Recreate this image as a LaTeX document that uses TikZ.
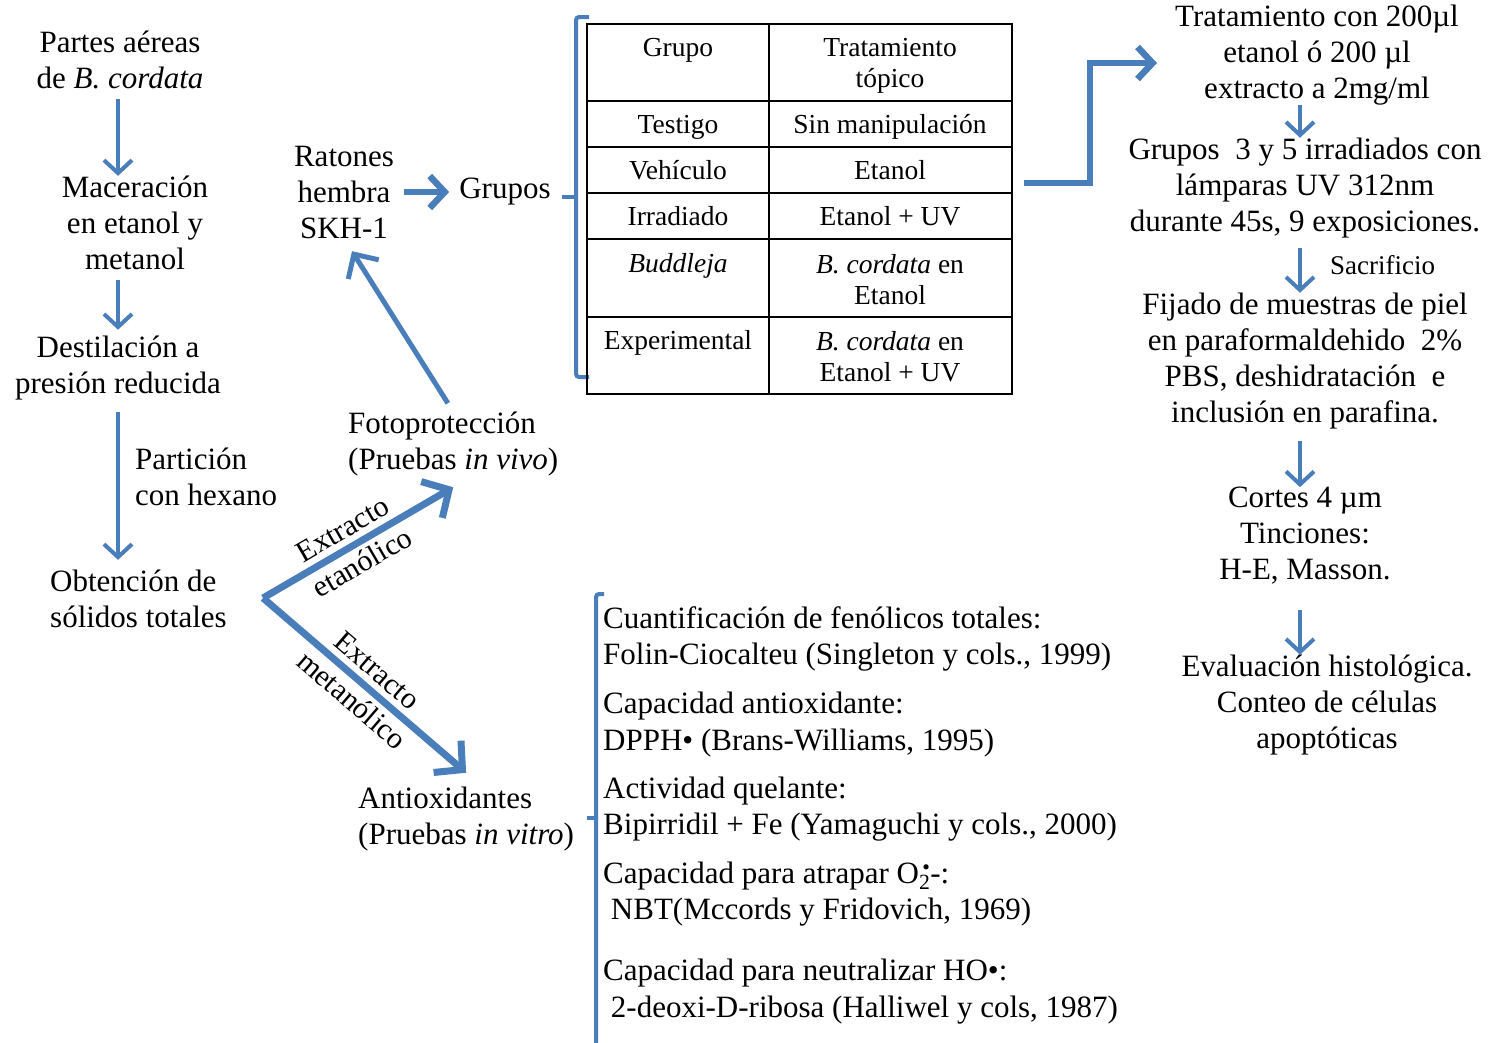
\documentclass[tikz,border=0pt]{standalone}
\usepackage{fontspec}
\setmainfont{Liberation Serif}
\usetikzlibrary{arrows.meta}
\usetikzlibrary{calc}
\usepackage{xcolor}
\definecolor{azul}{RGB}{74,126,187}

\begin{document}
\begin{tikzpicture}[x=1pt,y=-1pt,
        txt/.style={align=center, inner sep=0pt, font=\fontsize{31}{36}\selectfont},
        tab/.style={align=center, inner sep=0pt, anchor=north, font=\fontsize{27.5}{31}\selectfont, execute at begin node=\strut},
        item/.style={anchor=west, inner sep=0pt, font=\fontsize{31}{36}\selectfont, execute at begin node=\strut},
        lbl/.style={align=center, inner sep=0pt, font=\fontsize{30}{39}\selectfont},
        flecha/.style={draw=azul, line width=4pt, -{Straight Barb[length=13pt,width=28pt]}},
        flechagr/.style={draw=azul, line width=6.5pt, -{Straight Barb[length=15pt,width=32pt]}},
        llave/.style={draw=azul, line width=4pt, rounded corners=3pt}]

        \useasboundingbox (0,0) rectangle (1492,1042);

        % Left column
        \node[txt] (partes) at (120,60) {Partes aéreas\\de \textit{B. cordata}};
        \node[txt] (macer) at (135,223) {Maceración\\en etanol y\\metanol};
        \node[txt] (destil) at (118,368) {Destilación a\\presión reducida};
        \node[txt, align=left, anchor=west] (obten) at (50,599) {Obtención de\\sólidos totales};
        \node[txt, align=left, anchor=west] (partic) at (135,477) {Partición\\con hexano};

        \draw[flecha, shorten <=10pt] (partes.south -| destil) -- (destil |- macer.north);
        \draw[flecha, shorten <=10pt, shorten >=6pt] (macer.south -| destil) -- (destil.north);
        \draw[flecha, shorten <=12pt, shorten >=10pt] (destil.south) -- (destil.south |- obten.north);

        % Mice and groups
        \node[txt] (ratones) at (344,192) {Ratones\\hembra\\SKH-1};
        \node[txt] (grupos) at (505,192) {Grupos};
        \draw[flechagr, shorten <=10pt, shorten >=10pt] (ratones.east |- grupos) -- (grupos.west);

        \draw[llave] (589,17) -- (576,17) -- (576,377) -- (589,377);
        \draw[llave] (562,197) -- (576,197);

        % Table
        \draw[line width=2.5pt] (587,24) rectangle (1012,394);
        \draw[line width=2.5pt] (769,24) -- (769,394);
        \foreach \y in {101,147,193,239,317}
        {
          \draw[line width=2.5pt] (587,\y) -- (1012,\y);
        }
        \coordinate (tabla) at (1012,183);

        \node[tab] (g0) at (678,35) {Grupo};
        \node[tab] (t0) at (890,38) {Tratamiento\\tópico};
        \foreach \y/\dy/\g/\t [count=\i] in {112/0/Testigo/Sin manipulación,
            158/0/Vehículo/Etanol, 204/0/Irradiado/Etanol + UV,
            251/3/\textit{Buddleja}/{\textit{B. cordata} en\\Etanol},
            328/3/Experimental/{\textit{B. cordata} en\\Etanol + UV}}
        {
          \node[tab] (g\i) at (678,\y) {\g};
          \node[tab] (t\i) at (890,\y+\dy) {\t};
        }

        % Right column
        \coordinate (eje) at (1300,0);
        \node[txt] (trat) at (1317,55) {Tratamiento con 200µl\\etanol ó 200 µl\\extracto a 2mg/ml};
        \node[txt] (irr) at (1305,188) {Grupos \ 3 y 5 irradiados con\\lámparas UV 312nm\\durante 45s, 9 exposiciones.};
        \node[txt] (fij) at (1305,361) {Fijado de muestras de piel\\en paraformaldehido \ 2\%\\PBS, deshidratación \ e\\inclusión en parafina.};
        \node[txt] (cortes) at (1305,536) {Cortes 4 µm\\Tinciones:\\H-E, Masson.};
        \node[txt] (eval) at (1327,705) {Evaluación histológica.\\Conteo de células\\apoptóticas};
        \node[anchor=west, inner sep=0pt, font=\fontsize{27}{30}\selectfont] (sacr) at (1330,265) {Sacrificio};

        \draw[flechagr] ($(tabla)+(12,0)$) -- ++(66,0) |- ([xshift=-18pt,yshift=-8pt]trat.west);
        \draw[flecha] (trat.south -| eje) -- (eje |- irr.north);
        \draw[flecha, shorten <=10pt] (irr.south -| eje) -- (eje |- fij.north);
        \draw[flecha, shorten <=12pt] (fij.south -| eje) -- (eje |- cortes.north);
        \draw[flecha, shorten <=25pt] (cortes.south -| eje) -- (eje |- eval.north);

        % In vivo / in vitro
        \node[txt, align=left, anchor=west] (foto) at (348,444) {Fotoprotección\\(Pruebas \textit{in vivo})};
        \node[txt, align=left, anchor=west] (anti) at (358,819) {Antioxidantes\\(Pruebas \textit{in vitro})};
        \coordinate (vert) at (263,598);

        \draw[flechagr, line width=7pt, -{Straight Barb[length=20pt,width=42pt]}]
          (vert) -- node[lbl, sloped, pos=0.47] {Extracto\\etanólico} ($(foto.south)+(0,11)$);
        \draw[flechagr, line width=7pt, -{Straight Barb[length=20pt,width=42pt]}]
          (vert) -- node[lbl, sloped] {Extracto\\metanólico} ($(anti.north)+(0,-14)$);
        \draw[flechagr, line width=5pt, -{Straight Barb[length=18pt,width=36pt]}, shorten <=10pt, shorten >=15pt]
          (foto.north) -- (ratones.south);

        \draw[llave] (604,594) -- (596,594) -- (596,1046);
        \draw[llave] (587,818) -- (596,818);

        % Assays
        \foreach \y/\t [count=\i] in {621/Cuantificación de fenólicos totales:,
            657/{Folin-Ciocalteu (Singleton y cols., 1999)},
            706/Capacidad antioxidante:,
            743/{DPPH• (Brans-Williams, 1995)},
            791/Actividad quelante:,
            827/{Bipirridil + Fe (Yamaguchi y cols., 2000)},
            876/{Capacidad para atrapar O\textsubscript{2}\llap{\textsuperscript{•}}-:},
            912/{\ NBT(Mccords y Fridovich, 1969)},
            973/{Capacidad para neutralizar HO•:},
            1010/{\ 2-deoxi-D-ribosa (Halliwel y cols, 1987)}}
        {
          \node[item] (ensayo\i) at (603,\y) {\t};
        }
\end{tikzpicture}
\end{document}
